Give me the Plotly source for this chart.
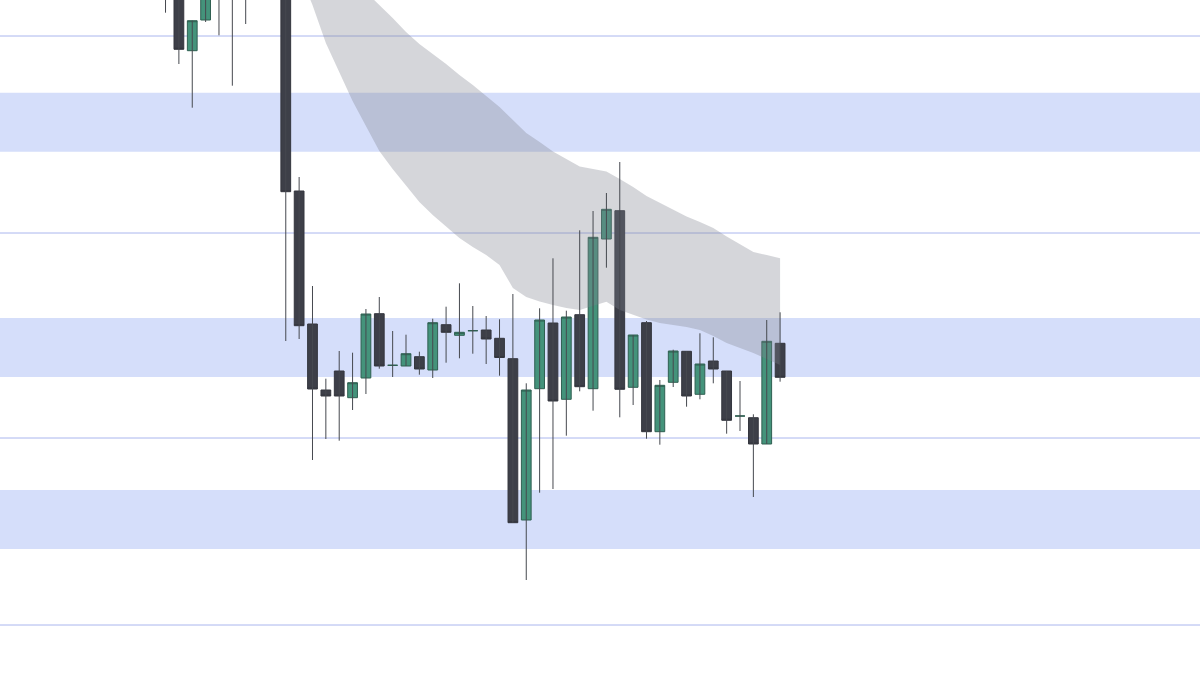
import plotly.graph_objects as go

# ---- data ----
idx = list(range(47))
opens = [170.5, 169.5, 162.43, 165.5, 171.5, 168.0, 168.5, 173.5, 176.5, 172.5,
         148.4, 135.1, 128.5, 130.4, 127.73, 129.7, 136.13, 130.97, 130.9, 131.83,
         130.5, 135.03, 133.97, 134.43, 134.5, 133.67, 131.63, 115.5, 128.63, 135.2,
         127.57, 136.03, 128.63, 143.6, 146.43, 128.77, 135.23, 124.33, 129.27, 132.37,
         128.07, 131.4, 130.4, 125.9, 125.73, 123.1, 133.17]
highs = [172.0, 170.5, 165.43, 171.0, 172.5, 173.0, 173.5, 178.5, 179.5, 173.5,
         149.8, 138.9, 129.63, 132.4, 132.23, 136.6, 137.8, 134.4, 134.03, 132.33,
         135.63, 136.83, 139.17, 136.9, 135.9, 135.57, 138.1, 129.17, 136.67, 141.67,
         136.43, 144.47, 146.4, 148.2, 151.3, 134.0, 135.4, 129.5, 132.53, 132.37,
         134.17, 133.77, 130.4, 129.4, 126.07, 135.5, 136.27]
lows = [166.23, 161.1, 156.73, 165.3, 163.97, 158.93, 165.1, 171.5, 170.5, 133.4,
        133.6, 121.5, 123.6, 123.43, 126.5, 128.1, 130.63, 129.8, 130.9, 130.03,
        129.7, 131.23, 131.67, 132.13, 131.1, 129.93, 115.23, 109.5, 118.23, 118.6,
        123.93, 128.37, 126.43, 140.73, 125.77, 127.0, 123.63, 123.03, 128.8, 126.83,
        127.57, 129.17, 124.13, 124.4, 117.8, 123.1, 129.33]
closes = [168.0, 162.57, 165.43, 170.0, 168.3, 171.5, 172.0, 177.5, 172.5, 148.33,
          134.93, 128.6, 127.9, 127.9, 129.23, 136.1, 130.9, 130.97, 132.13, 130.6,
          135.23, 134.27, 134.27, 134.43, 133.6, 131.75, 115.23, 128.5, 135.5, 127.4,
          135.8, 128.83, 143.77, 146.57, 128.57, 134.0, 124.33, 128.97, 132.4, 127.9,
          131.1, 130.6, 125.47, 125.9, 123.1, 133.37, 129.77]

cloud_idx = list(range(10, 47))
cloud_upper = [175.0, 173.5, 172.2, 170.8, 169.5, 168.3, 167.05, 165.7, 164.3, 163.1,
               162.1, 161.1, 160.0, 159.0, 157.9, 156.8, 155.5, 154.2, 153.3, 152.35,
               151.6, 150.85, 150.6, 150.35, 149.6, 148.8, 147.9, 147.2, 146.5, 145.85,
               145.3, 144.7, 143.85, 143.1, 142.3, 142.0, 141.67]
cloud_lower = [170.3, 167.0, 163.2, 160.3, 157.4, 154.9, 152.4, 150.6, 148.9, 147.3,
               146.0, 144.8, 143.7, 142.8, 142.0, 141.0, 138.7, 137.8, 137.35, 137.0,
               136.7, 136.5, 136.9, 137.33, 136.5, 136.0, 135.55, 135.2, 135.0, 134.8,
               134.5, 133.9, 133.2, 132.7, 132.2, 131.6, 131.0]

level_lines = [163.9, 144.2, 123.7, 105.0]
zones = [(152.33, 158.23), (129.8, 135.7), (112.6, 118.5)]

# ---- styles ----
GREEN = "#44937b"
GREEN_EDGE = "#2f5f51"
DARK = "#3d3f48"
DARK_EDGE = "#34363e"
WICK = "#46494f"
ZONE = "#d5defa"
LINE = "#aab6ee"

fig = go.Figure()

# cloud
fig.add_trace(go.Scatter(x=cloud_idx, y=cloud_lower, mode="lines",
                         line=dict(width=0, color="rgba(0,0,0,0)"),
                         hoverinfo="skip", showlegend=False))
fig.add_trace(go.Scatter(x=cloud_idx, y=cloud_upper, mode="lines",
                         line=dict(width=0, color="rgba(0,0,0,0)"),
                         fill="tonexty", fillcolor="rgba(128,131,142,0.33)",
                         hoverinfo="skip", showlegend=False))

# wicks
wx, wy = [], []
for i, h, l in zip(idx, highs, lows):
    wx += [i, i, None]
    wy += [h, l, None]
fig.add_trace(go.Scatter(x=wx, y=wy, mode="lines", line=dict(color=WICK, width=1),
                         hoverinfo="skip", showlegend=False))

# bodies
body_hi = [max(o, c) for o, c in zip(opens, closes)]
body_lo = [min(o, c) for o, c in zip(opens, closes)]
fig.add_trace(go.Candlestick(
    x=idx, open=opens, high=body_hi, low=body_lo, close=closes,
    increasing=dict(fillcolor=GREEN, line=dict(color=GREEN_EDGE, width=1)),
    decreasing=dict(fillcolor=DARK, line=dict(color=DARK_EDGE, width=1)),
    showlegend=False, hoverinfo="skip"))

for lo, hi in zones:
    fig.add_shape(type="rect", xref="paper", x0=0, x1=1, yref="y", y0=lo, y1=hi,
                  fillcolor=ZONE, line=dict(width=0), layer="below")
for lv in level_lines:
    fig.add_shape(type="line", xref="paper", x0=0, x1=1, yref="y", y0=lv, y1=lv,
                  line=dict(color=LINE, width=1), layer="below")

fig.update_layout(
    width=1200, height=675,
    margin=dict(l=0, r=0, t=0, b=0),
    paper_bgcolor="white", plot_bgcolor="white",
    showlegend=False,
    boxgap=0.27, boxgroupgap=0,
    xaxis=dict(range=[-12.39, 77.43], visible=False, showgrid=False,
               rangeslider=dict(visible=False), fixedrange=True),
    yaxis=dict(range=[100.0, 167.5], visible=False, showgrid=False, fixedrange=True),
)

fig.write_html("out.html", config={"displayModeBar": False},
               post_script="document.body.style.margin='0';")
